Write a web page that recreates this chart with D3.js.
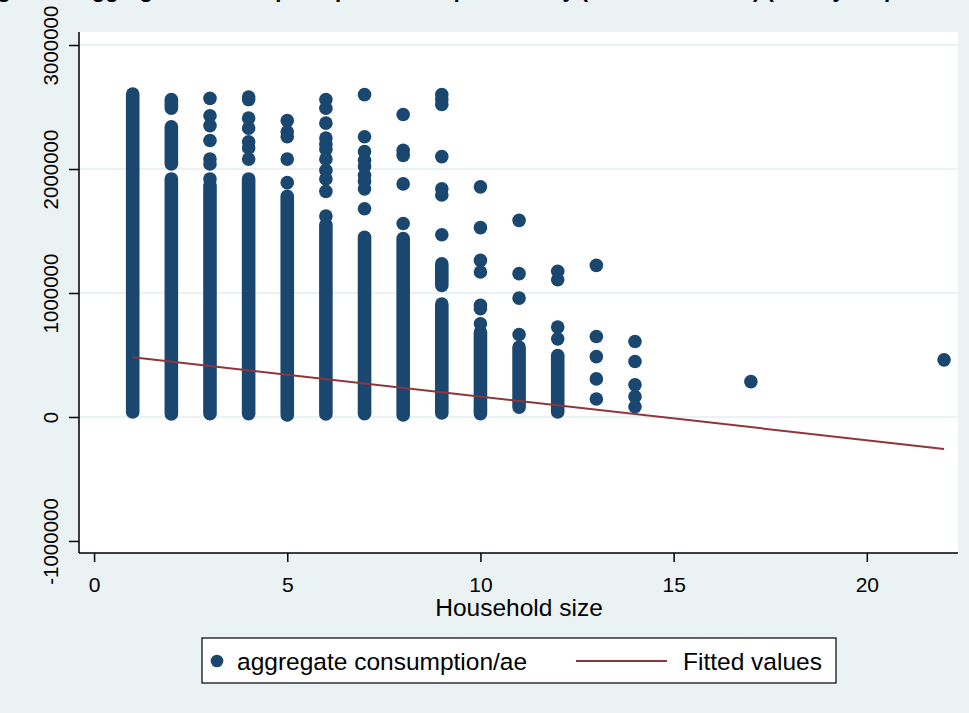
<!DOCTYPE html>
<html>
<head>
<meta charset="utf-8">
<script src="https://cdn.jsdelivr.net/npm/d3@7"></script>
<style>
  html, body { margin: 0; padding: 0; background: #eaf2f3; }
  svg { display: block; font-family: "Liberation Sans", Arial, Helvetica, sans-serif; }
</style>
</head>
<body>
<svg id="chart" width="969" height="713"></svg>
<script>
// Household sizes present in the survey
const householdSize = [1, 2, 3, 4, 5, 6, 7, 8, 9, 10, 11, 12, 13, 14, 17, 22];

// Stretches where observations are so dense the markers merge into a solid band
// (one entry per stretch: household size, lowest value, highest value)
const bandSize = [1, 2, 2, 2, 3, 4, 5, 6, 7, 8, 9, 9, 10, 11, 12];
const bandLow  = [40000, 24000, 2040000, 2490000, 27000, 27000, 16000, 24000, 27000, 16000, 32000, 1060000, 27000, 78000, 40000];
const bandHigh = [2605000, 1920000, 2340000, 2560000, 1870000, 1920000, 1780000, 1550000, 1450000, 1440000, 910000, 1236000, 684000, 563000, 495000];

// Individual observations standing apart from the dense bands
const scatteredValues = [
  [],
  [],
  [2570000, 2430000, 2350000, 2230000, 2080000, 2040000, 1920000],
  [2580000, 2560000, 2410000, 2330000, 2220000, 2170000, 2080000],
  [2390000, 2300000, 2260000, 2080000, 1890000],
  [2560000, 2490000, 2370000, 2250000, 2200000, 2160000, 2080000, 1990000, 1920000, 1820000, 1620000],
  [2600000, 2260000, 2140000, 2070000, 2020000, 1950000, 1900000, 1840000, 1680000],
  [2440000, 2150000, 2110000, 1880000, 1560000],
  [2600000, 2560000, 2520000, 2100000, 1840000, 1790000, 1470000],
  [1856000, 1527000, 1263000, 1169000, 900000, 873000, 752000],
  [1586000, 1156000, 959000, 665000],
  [1175000, 1107000, 725000, 630000],
  [1223000, 649000, 487000, 307000, 145000],
  [609000, 447000, 259000, 164000, 83000],
  [285000],
  [461000]
];

// Linear fit of consumption on household size (end points of the fitted line)
const fitSize  = [1, 22];
const fitValue = [482000, -258000];

// Axis ticks
const xTicks = [0, 5, 10, 15, 20];
const yTicks = [-1000000, 0, 1000000, 2000000, 3000000];
const yGridTicks = [0, 1000000, 2000000, 3000000];

const seriesLabels = ["aggregate consumption/ae", "Fitted values"];
const xTitle = "Household size";
const chartTitle = "Figure 4: Aggregate consumption per adult equivalent by (household_size) (survey respondents)";

const navy = "#1a476f";
const maroon = "#90353b";
const markerR = 6.8;

const svg = d3.select("#chart");

const plot = { left: 80, right: 958, top: 32, bottom: 553 };

const x = d3.scaleLinear().domain([-0.39, 22.36]).range([79, plot.right]);
const y = d3.scaleLinear().domain([-1097000, 3105000]).range([plot.bottom, plot.top]);

// Plain integer labels with an ASCII hyphen for negatives
const intLabel = d => String(d);

// Background
svg.append("rect").attr("width", 969).attr("height", 713).attr("fill", "#eaf2f3");

// Title (sits mostly above the top edge of the page)
svg.append("text")
  .attr("x", 484).attr("y", -3)
  .attr("text-anchor", "middle")
  .attr("font-size", 22).attr("font-weight", "bold")
  .attr("fill", "#000")
  .text(chartTitle);

// Plot region
svg.append("rect")
  .attr("x", plot.left).attr("y", plot.top)
  .attr("width", plot.right - plot.left).attr("height", plot.bottom - plot.top)
  .attr("fill", "#ffffff");

// Gridlines
svg.append("g").selectAll("line").data(yGridTicks).join("line")
  .attr("x1", plot.left).attr("x2", plot.right)
  .attr("y1", d => y(d)).attr("y2", d => y(d))
  .attr("stroke", "#eaf2f3").attr("stroke-width", 2);

// Y axis
const yAxis = svg.append("g")
  .attr("transform", `translate(${79},0)`)
  .call(d3.axisLeft(y).tickValues(yTicks).tickSize(10).tickPadding(0).tickFormat(intLabel));
yAxis.select(".domain").attr("d", `M0,${plot.top}V${plot.bottom}`).attr("stroke", "#000").attr("stroke-width", 1.5);
yAxis.selectAll(".tick line").attr("stroke", "#000").attr("stroke-width", 1.5);
yAxis.selectAll(".tick text")
  .attr("x", null).attr("dy", null)
  .attr("transform", "translate(-21,0) rotate(-90)")
  .attr("text-anchor", "middle")
  .attr("font-size", 20.5)
  .attr("font-family", "Liberation Sans, Arial, sans-serif")
  .attr("fill", "#000");

// X axis
const xAxis = svg.append("g")
  .attr("transform", `translate(0,${plot.bottom})`)
  .call(d3.axisBottom(x).tickValues(xTicks).tickSize(9).tickPadding(0).tickFormat(intLabel));
xAxis.select(".domain").attr("d", `M79,0H${plot.right}`).attr("stroke", "#000").attr("stroke-width", 1.5);
xAxis.selectAll(".tick line").attr("stroke", "#000").attr("stroke-width", 1.5);
xAxis.selectAll(".tick text")
  .attr("y", 39).attr("dy", null)
  .attr("font-size", 21)
  .attr("font-family", "Liberation Sans, Arial, sans-serif")
  .attr("fill", "#000");

svg.append("text")
  .attr("x", (plot.left + plot.right) / 2).attr("y", 616)
  .attr("text-anchor", "middle")
  .attr("font-size", 24.5)
  .attr("fill", "#000")
  .text(xTitle);

// Dense bands of overlapping markers
const marks = svg.append("g");
marks.selectAll("line.band").data(bandSize.map((s, i) => ({ s, lo: bandLow[i], hi: bandHigh[i] })))
  .join("line").attr("class", "band")
  .attr("x1", d => x(d.s)).attr("x2", d => x(d.s))
  .attr("y1", d => y(d.lo)).attr("y2", d => y(d.hi))
  .attr("stroke", navy).attr("stroke-width", markerR * 2).attr("stroke-linecap", "round");

// Individual markers
const points = householdSize.flatMap((s, i) => scatteredValues[i].map(v => ({ s, v })));
marks.selectAll("circle").data(points).join("circle")
  .attr("cx", d => x(d.s)).attr("cy", d => y(d.v))
  .attr("r", markerR).attr("fill", navy);

// Fitted line
svg.append("path")
  .datum(fitSize.map((s, i) => [s, fitValue[i]]))
  .attr("d", d3.line().x(d => x(d[0])).y(d => y(d[1])))
  .attr("fill", "none").attr("stroke", maroon).attr("stroke-width", 2);

// Legend
const legend = svg.append("g");
legend.append("rect")
  .attr("x", 202).attr("y", 638).attr("width", 634).attr("height", 45)
  .attr("fill", "#fff").attr("stroke", "#000").attr("stroke-width", 1.2);
legend.append("circle").attr("cx", 217).attr("cy", 661).attr("r", 6.3).attr("fill", navy);
legend.append("text").attr("x", 237).attr("y", 669.5)
  .attr("font-size", 24.5).attr("fill", "#000").text(seriesLabels[0]);
legend.append("line").attr("x1", 576).attr("x2", 667).attr("y1", 661).attr("y2", 661)
  .attr("stroke", maroon).attr("stroke-width", 2);
legend.append("text").attr("x", 683).attr("y", 669.5)
  .attr("font-size", 24.5).attr("fill", "#000").text(seriesLabels[1]);
</script>
</body>
</html>
